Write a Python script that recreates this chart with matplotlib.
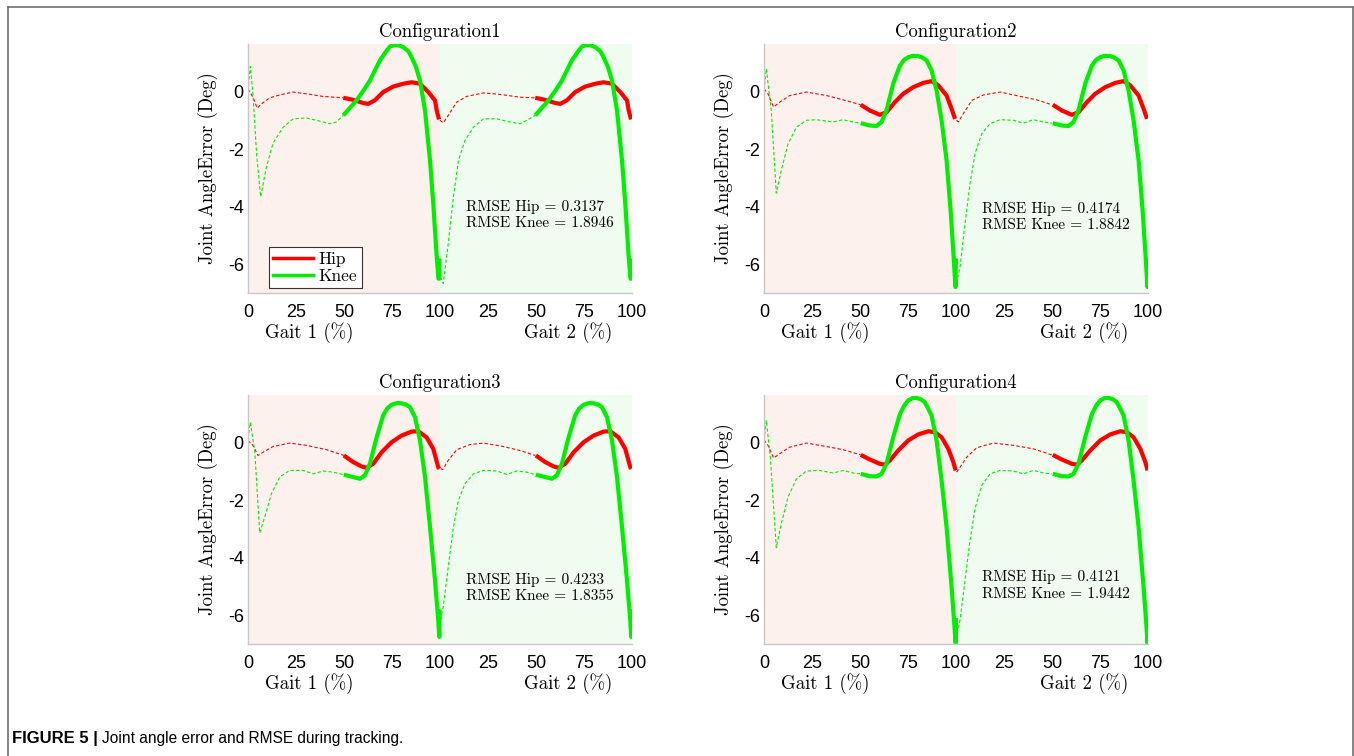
import matplotlib.pyplot as plt
from matplotlib.lines import Line2D

# values; x in % of the two-gait window (0-200)
titles = ["Configuration1", "Configuration2", "Configuration3", "Configuration4"]
rmse_hip = ["0.3137", "0.4174", "0.4233", "0.4121"]
rmse_knee = ["1.8946", "1.8842", "1.8355", "1.9442"]
text_y = [-4.3, -4.35, -5.06, -4.97]

# gait 1, dashed part (0-50)
hip_g1_x = [
    [0, 2.6, 4.8, 7, 11.3, 16.5, 23.5, 30.4, 39, 49.6],
    [0, 2.1, 5, 8.2, 13.4, 22.1, 32.5, 41.2, 50.4],
    [0, 2.6, 5.2, 7.8, 13, 21.7, 30.4, 40.9, 49.9],
    [0, 2.1, 5, 8.2, 13.4, 22.1, 32.5, 41.2, 50.4],
]
hip_g1_y = [
    [0.09, -0.2, -0.58, -0.43, -0.22, -0.12, -0.02, -0.08, -0.17, -0.22],
    [0.09, -0.08, -0.54, -0.37, -0.14, -0.02, -0.14, -0.29, -0.46],
    [0.07, -0.1, -0.45, -0.34, -0.14, -0.02, -0.1, -0.25, -0.45],
    [0.09, -0.1, -0.54, -0.39, -0.16, -0.02, -0.14, -0.25, -0.43],
]
knee_g1_x = [
    [0, 1.2, 2.6, 4.5, 6.6, 9.6, 13, 18.3, 23.5, 30.4, 35.7, 42.6, 46, 49.6],
    [0, 1.2, 3.8, 6.4, 9, 12.5, 16.9, 22.1, 27.3, 36, 41.2, 46.4, 50.4],
    [0, 1.2, 3.5, 6.1, 8.7, 12.2, 16.5, 21.7, 28.7, 33.9, 39.1, 44.3, 49.9],
    [0, 1.2, 3.3, 6.4, 9, 12.5, 16.9, 22.1, 29, 36, 41.2, 46.4, 50.4],
]
knee_g1_y = [
    [0.03, 0.87, -0.1, -2.2, -3.66, -2.62, -1.8, -1.24, -0.95, -0.92, -1.0, -1.12, -1.06, -0.83],
    [0.03, 0.79, -0.66, -3.53, -2.74, -1.82, -1.24, -1.0, -0.98, -1.06, -0.98, -1.06, -1.1],
    [0.13, 0.7, -0.28, -3.14, -2.59, -1.78, -1.2, -0.97, -0.97, -1.09, -0.99, -1.03, -1.12],
    [0.07, 0.76, -0.51, -3.65, -2.82, -1.9, -1.26, -0.99, -0.97, -1.06, -0.97, -1.06, -1.09],
]

# solid part (50-100), same shape in both gaits
hip_s_x = [
    [49.6, 54.8, 60, 62.6, 66, 70.4, 75.6, 80.9, 85.2, 89.6, 93.9, 97.4, 98.3, 99.5],
    [50.4, 55.1, 60.3, 63.8, 68.2, 72.5, 77.7, 83, 87.3, 90.8, 95.1, 97.7, 99.5],
    [49.9, 54.8, 59.1, 61.7, 65.2, 69.6, 74.8, 80, 85.2, 88.7, 93, 96.5, 99.1, 99.7],
    [50.4, 55.1, 60.3, 62.9, 65.6, 69.9, 75.1, 80.3, 85.6, 89, 92.5, 96, 98.6, 99.8],
]
hip_s_y = [
    [-0.22, -0.29, -0.4, -0.43, -0.31, -0.02, 0.17, 0.27, 0.32, 0.27, -0.02, -0.31, -0.66, -0.97],
    [-0.46, -0.66, -0.81, -0.72, -0.37, -0.08, 0.15, 0.3, 0.36, 0.21, -0.14, -0.6, -0.95],
    [-0.45, -0.68, -0.83, -0.88, -0.74, -0.34, 0.01, 0.24, 0.38, 0.39, 0.18, -0.22, -0.86, -0.91],
    [-0.43, -0.59, -0.74, -0.77, -0.62, -0.28, 0.07, 0.28, 0.39, 0.36, 0.18, -0.22, -0.68, -0.97],
]
knee_s_x = [
    [49.6, 56.5, 60, 63.5, 66, 68.7, 72, 73.9, 76.5, 78.7, 80.9, 83.5, 85.2, 87.5, 89.6, 92.2, 94.8,
     96.5, 98.3, 99.2, 99.6, 99.7],
    [50.4, 55.1, 58.6, 61.2, 63.8, 67.3, 70.8, 73, 75.1, 77.5, 80.3, 82.5, 84.7, 87.3, 89.9, 92.5,
     95.1, 97.2, 99, 99.7, 99.8, 99.9],
    [49.9, 54.8, 58.3, 60.9, 63.5, 67, 70.4, 72.5, 74.8, 77.5, 80, 82.3, 84.3, 87, 89.6, 92.2, 94.8,
     97.4, 99.1, 99.6, 99.7, 99.8],
    [50.4, 55.1, 58.6, 61.2, 63.8, 67.3, 70.8, 73, 75.1, 77.3, 79.5, 81.7, 83.8, 87.3, 89.9, 92.5,
     95.1, 97.7, 99.1, 99.8, 99.9, 100],
]
knee_s_y = [
    [-0.83, -0.31, 0.02, 0.38, 0.72, 1.08, 1.4, 1.56, 1.62, 1.6, 1.54, 1.4, 1.19, 0.85, 0.38, -0.66,
     -2.39, -3.9, -5.75, -6.5, -6.5, -5.8],
    [-1.1, -1.18, -1.2, -1.06, -0.66, 0.27, 0.9, 1.1, 1.19, 1.24, 1.23, 1.18, 1.08, 0.73, 0.03, -1.0,
     -2.39, -4.13, -5.98, -6.79, -6.79, -5.8],
    [-1.12, -1.2, -1.26, -1.14, -0.74, 0.18, 0.94, 1.18, 1.31, 1.37, 1.36, 1.32, 1.23, 0.88, 0.07, -1.2,
     -2.94, -4.79, -6.17, -6.75, -6.75, -5.8],
    [-1.09, -1.17, -1.18, -1.09, -0.74, 0.18, 0.99, 1.28, 1.46, 1.54, 1.55, 1.5, 1.4, 0.94, 0.07, -1.32,
     -2.94, -5.02, -6.29, -6.98, -6.98, -6.1],
]

# gait 2, dashed part (100-150)
hip_g2_x = [
    [100, 101.7, 104.3, 108.7, 113.9, 122.6, 131.3, 141.7, 149.6],
    [100.3, 101.2, 103.8, 108.2, 114.3, 123, 133.4, 142.1, 149.9],
    [100.3, 101.4, 104.3, 108.7, 115.7, 122.6, 133, 141.7, 149.6],
    [100.3, 102.1, 105.6, 110.8, 119.5, 129.9, 140.3, 149.9],
]
hip_g2_y = [
    [-1.0, -1.09, -0.83, -0.37, -0.17, -0.05, -0.1, -0.2, -0.22],
    [-1.0, -1.06, -0.77, -0.31, -0.12, -0.02, -0.17, -0.29, -0.46],
    [-0.91, -0.94, -0.62, -0.25, -0.07, -0.02, -0.14, -0.28, -0.45],
    [-1.03, -0.86, -0.51, -0.18, -0.02, -0.1, -0.22, -0.43],
]
knee_g2_x = [
    [100.2, 101.7, 104.3, 107, 109.6, 113, 117.4, 122.6, 129.6, 136.5, 141.7, 145.2, 149.6],
    [100.3, 102.1, 104.7, 107.3, 109.9, 113.4, 117.7, 123, 129.9, 135.1, 140.3, 145.6, 149.9],
    [100.3, 101.7, 104.3, 107, 109.6, 113, 117.4, 122.6, 129.6, 134.8, 140, 145.2, 149.6],
    [100.7, 102.1, 104.7, 107.3, 109.9, 113.4, 117.7, 123, 129.9, 135.1, 140.3, 145.6, 149.9],
]
knee_g2_y = [
    [-6.44, -6.67, -5.28, -3.66, -2.39, -1.7, -1.24, -0.95, -0.95, -1.06, -1.12, -1.0, -0.83],
    [-6.67, -6.1, -4.59, -3.2, -2.16, -1.47, -1.12, -0.98, -1.0, -1.1, -0.98, -1.06, -1.1],
    [-6.17, -5.71, -4.32, -2.94, -2.01, -1.43, -1.09, -0.97, -0.99, -1.11, -0.99, -1.03, -1.12],
    [-6.64, -6.17, -4.79, -3.4, -2.3, -1.49, -1.09, -0.97, -0.99, -1.09, -0.97, -1.06, -1.09],
]

RED = "#ff0000"
GREEN = "#00ee00"
SERIF = "cmr10"
dash = (0, (3, 2))

fig = plt.figure(figsize=(13.54, 7.56), dpi=100)

lefts = [248, 764, 248, 764]
tops = [44, 44, 395, 395]
W, H = 384, 249

for i in range(4):
    ax = fig.add_axes([lefts[i] / 1354, 1 - (tops[i] + H) / 756, W / 1354, H / 756])
    ax.axvspan(0, 100, color="#fdf1ed", lw=0)
    ax.axvspan(100, 200, color="#effcef", lw=0)

    ax.plot(hip_g1_x[i], hip_g1_y[i], color=RED, lw=0.8, ls=dash)
    ax.plot(knee_g1_x[i], knee_g1_y[i], color=GREEN, lw=0.8, ls=dash)
    ax.plot(hip_g2_x[i], hip_g2_y[i], color=RED, lw=0.8, ls=dash)
    ax.plot(knee_g2_x[i], knee_g2_y[i], color=GREEN, lw=0.8, ls=dash)
    for off in (0, 100):
        hx = [v + off for v in hip_s_x[i]]
        kx = [v + off for v in knee_s_x[i]]
        ax.plot(hx, hip_s_y[i], color=RED, lw=3, solid_capstyle="butt", solid_joinstyle="round")
        ax.plot(kx, knee_s_y[i], color=GREEN, lw=3, solid_capstyle="butt", solid_joinstyle="round")

    ax.set_xlim(0, 200)
    ax.set_ylim(-7, 1.65)
    ax.set_xticks([0, 25, 50, 75, 100, 125, 150, 175, 200])
    ax.set_xticklabels(["0", "25", "50", "75", "100", "25", "50", "75", "100"])
    ax.set_yticks([0, -2, -4, -6])
    ax.set_yticklabels(["0", "-2", "-4", "-6"])
    ax.tick_params(length=0, labelsize=13)
    ax.tick_params(axis="x", pad=8)
    ax.tick_params(axis="y", pad=3)
    for lab in ax.get_xticklabels() + ax.get_yticklabels():
        lab.set_fontfamily("Liberation Sans")
    for s in ("top", "right"):
        ax.spines[s].set_visible(False)
    for s in ("left", "bottom"):
        ax.spines[s].set_color("#c8c8c8")
        ax.spines[s].set_linewidth(1)

    ax.set_title(titles[i], fontfamily=SERIF, fontsize=13.5, pad=5)
    ax.set_ylabel("Joint AngleError (Deg)", fontfamily=SERIF, fontsize=13.5, labelpad=7)
    tr = ax.get_xaxis_transform()
    ax.text(32, -0.16, "Gait 1 (%)", transform=tr, ha="center", va="center",
            fontfamily=SERIF, fontsize=13.5)
    ax.text(167, -0.16, "Gait 2 (%)", transform=tr, ha="center", va="center",
            fontfamily=SERIF, fontsize=13.5)
    ax.text(113.5, text_y[i], "RMSE Hip = " + rmse_hip[i] + "\nRMSE Knee = " + rmse_knee[i],
            ha="left", va="center", fontfamily=SERIF, fontsize=11, linespacing=1.25)

    if i == 0:
        handles = [Line2D([], [], color=RED, lw=2.5), Line2D([], [], color=GREEN, lw=2.5)]
        leg = ax.legend(handles, ["Hip", "Knee"], loc="lower left", bbox_to_anchor=(0.055, 0.02),
                        prop={"family": SERIF, "size": 12.5}, fancybox=False, framealpha=1,
                        edgecolor="#333333", handlelength=2.3, handletextpad=0.3,
                        borderpad=0.25, labelspacing=0.1, borderaxespad=0)
        leg.get_frame().set_linewidth(0.8)

# page frame and caption
fig.add_artist(Line2D([7.5 / 1354, 7.5 / 1354], [0, 1 - 6.5 / 756], color="#707070", lw=1.2))
fig.add_artist(Line2D([7.5 / 1354, 1352.5 / 1354], [1 - 6.5 / 756, 1 - 6.5 / 756], color="#707070", lw=1.2))
fig.add_artist(Line2D([1352.5 / 1354, 1352.5 / 1354], [0, 1 - 6.5 / 756], color="#707070", lw=1.2))
fig.text(12 / 1354, 1 - 739 / 756, "FIGURE 5 |", fontfamily="Liberation Sans", fontweight="bold",
         fontsize=12, va="center")
fig.text(102 / 1354, 1 - 739 / 756, "Joint angle error and RMSE during tracking.",
         fontfamily="Liberation Sans", fontsize=11.2, va="center")

fig.savefig("out.png", dpi=100)
